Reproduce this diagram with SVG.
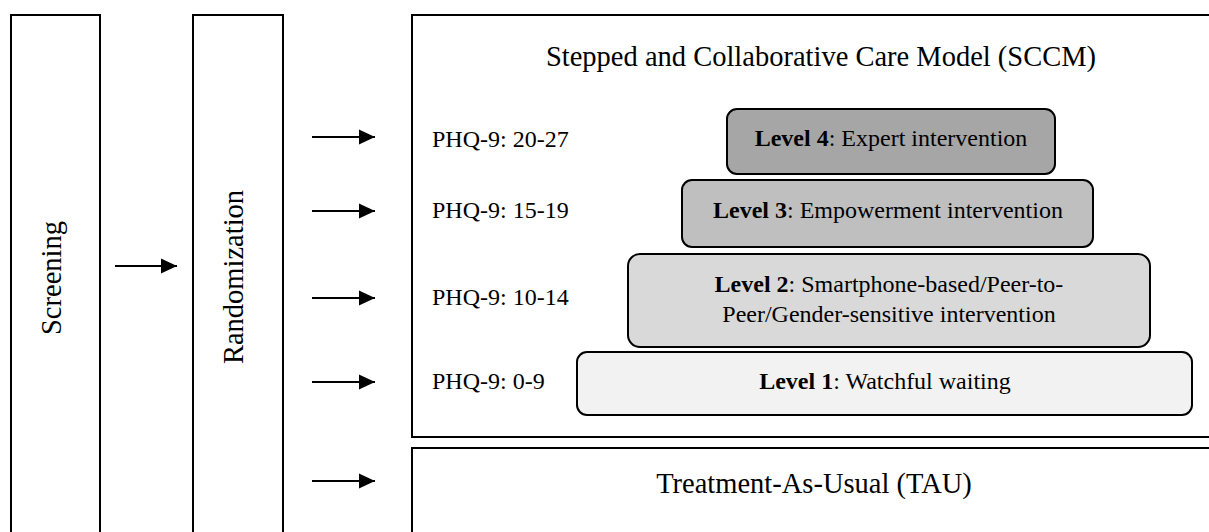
<svg xmlns="http://www.w3.org/2000/svg" width="1209" height="532" viewBox="0 0 1209 532">
<style>
.frame{fill:#fff;stroke:#000;stroke-width:2}
.lvl{stroke:#000;stroke-width:2}
.t{font-family:"Liberation Serif","Times New Roman",serif;fill:#000}
.big{font-size:28.5px}
.sm{font-size:24px}
.b{font-weight:bold}
.arr{stroke:#000;stroke-width:2;fill:none}
</style>
<defs>
<marker id="ah" viewBox="0 0 16 16" refX="16" refY="8" markerWidth="16" markerHeight="16" markerUnits="userSpaceOnUse" orient="auto">
<path d="M0,0.5 L16,8 L0,15.5 Z" fill="#000"/>
</marker>
</defs>
<rect width="1209" height="532" fill="#fff"/>
<g id="screening">
<rect class="frame" x="11" y="15" width="89" height="530"/>
<text class="t big" text-anchor="middle" transform="translate(61,278) rotate(-90)">Screening</text>
</g>
<g id="randomization">
<rect class="frame" x="193" y="15" width="90" height="530"/>
<text class="t big" text-anchor="middle" transform="translate(243,277) rotate(-90)">Randomization</text>
</g>
<g id="sccm">
<rect class="frame" x="412" y="15" width="820" height="422"/>
<text class="t big" x="821" y="66" text-anchor="middle">Stepped and Collaborative Care Model (SCCM)</text>
<text class="t sm" x="432" y="147">PHQ-9: 20-27</text>
<text class="t sm" x="432" y="218">PHQ-9: 15-19</text>
<text class="t sm" x="432" y="305">PHQ-9: 10-14</text>
<text class="t sm" x="432" y="389">PHQ-9: 0-9</text>
</g>
<g id="level4">
<rect class="lvl" x="727" y="109" width="328" height="65" rx="10" fill="#a6a6a6"/>
<text class="t sm" x="891" y="146" text-anchor="middle"><tspan class="b">Level 4</tspan>: Expert intervention</text>
</g>
<g id="level3">
<rect class="lvl" x="682" y="180" width="411" height="67" rx="10" fill="#bfbfbf"/>
<text class="t sm" x="888" y="218" text-anchor="middle"><tspan class="b">Level 3</tspan>: Empowerment intervention</text>
</g>
<g id="level2">
<rect class="lvl" x="628" y="254" width="522" height="93" rx="12" fill="#d9d9d9"/>
<text class="t sm" x="889" y="292" text-anchor="middle"><tspan class="b">Level 2</tspan>: Smartphone-based/Peer-to-</text>
<text class="t sm" x="889" y="322" text-anchor="middle">Peer/Gender-sensitive intervention</text>
</g>
<g id="level1">
<rect class="lvl" x="577" y="352" width="615" height="63" rx="10" fill="#f2f2f2"/>
<text class="t sm" x="885" y="389" text-anchor="middle"><tspan class="b">Level 1</tspan>: Watchful waiting</text>
</g>
<g id="tau">
<rect class="frame" x="412" y="448" width="820" height="100"/>
<text class="t big" x="814" y="493" text-anchor="middle">Treatment-As-Usual (TAU)</text>
</g>
<g id="connectors">
<line class="arr" x1="115" y1="266" x2="177" y2="266" marker-end="url(#ah)"/>
<line class="arr" x1="312" y1="137" x2="375" y2="137" marker-end="url(#ah)"/>
<line class="arr" x1="312" y1="211" x2="375" y2="211" marker-end="url(#ah)"/>
<line class="arr" x1="312" y1="298" x2="375" y2="298" marker-end="url(#ah)"/>
<line class="arr" x1="312" y1="382" x2="375" y2="382" marker-end="url(#ah)"/>
<line class="arr" x1="312" y1="481" x2="375" y2="481" marker-end="url(#ah)"/>
</g>
</svg>
